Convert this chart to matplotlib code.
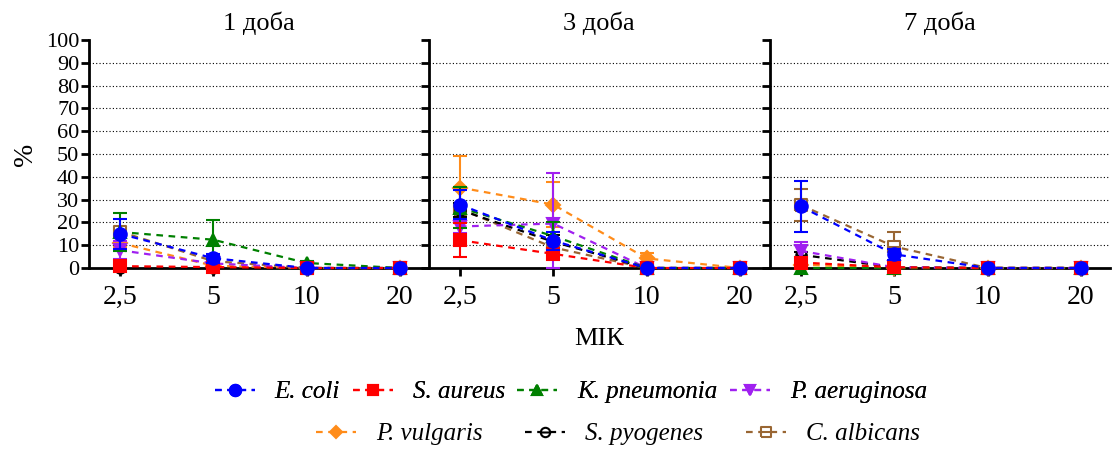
import matplotlib.pyplot as plt
import numpy as np
from matplotlib.lines import Line2D
from matplotlib.path import Path

plt.rcParams["font.family"] = "Liberation Serif"

days = ["1 доба", "3 доба", "7 доба"]
mic_labels = ["2,5", "5", "10", "20"]
species = ["E. coli", "S. aureus", "K. pneumonia", "P. aeruginosa",
           "P. vulgaris", "S. pyogenes", "C. albicans"]

# mean % per day (rows) and MIC (columns), with SD
e_coli = [[15.0, 4.3, 0, 0], [27.8, 12.0, 0, 0], [27.0, 6.0, 0, 0]]
e_coli_sd = [[6.5, 2.0, 0, 0], [6.5, 4.0, 0, 0], [11.0, 2.5, 0, 0]]
s_aureus = [[0.8, 0.4, 0, 0], [12.2, 6.2, 0, 0], [2.4, 0.3, 0, 0]]
s_aureus_sd = [[0, 0, 0, 0], [7.5, 2.0, 0, 0], [1.0, 0, 0, 0]]
k_pneumonia = [[15.8, 12.4, 2.2, 0], [26.5, 14.0, 0, 0], [0, 0, 0, 0]]
k_pneumonia_sd = [[8.5, 8.5, 0.8, 0], [9.0, 6.0, 0, 0], [0, 0, 0, 0]]
p_aeruginosa = [[7.8, 2.0, 0, 0], [18.2, 19.5, 0, 0], [7.5, 0.3, 0, 0]]
p_aeruginosa_sd = [[4.0, 1.0, 0, 0], [3.0, 22.0, 0, 0], [4.0, 0, 0, 0]]
p_vulgaris = [[11.0, 1.0, 0, 0], [35.3, 27.8, 4.2, 0], [1.5, 0, 0, 0]]
p_vulgaris_sd = [[2.0, 0.5, 0, 0], [14.0, 10.0, 2.5, 0], [0, 0, 0, 0]]
s_pyogenes = [[0, 0, 0, 0], [25.5, 11.5, 0, 0], [5.8, 0.3, 0, 0]]
s_pyogenes_sd = [[0, 0, 0, 0], [3.0, 3.0, 0, 0], [1.0, 0, 0, 0]]
c_albicans = [[16.0, 3.0, 0, 0], [26.0, 9.0, 0, 0], [27.6, 9.4, 0, 0]]
c_albicans_sd = [[2.0, 1.0, 0, 0], [2.0, 2.0, 0, 0], [7.0, 6.5, 0, 0]]

means = [e_coli, s_aureus, k_pneumonia, p_aeruginosa, p_vulgaris, s_pyogenes, c_albicans]
sds = [e_coli_sd, s_aureus_sd, k_pneumonia_sd, p_aeruginosa_sd,
       p_vulgaris_sd, s_pyogenes_sd, c_albicans_sd]

# circle / square with a horizontal bar through the middle
circle_bar = Path.make_compound_path(Path.unit_circle(), Path([[-1, 0], [1, 0]]))
sq = Path([[-1, -1], [1, -1], [1, 1], [-1, 1], [-1, -1]])
square_bar = Path.make_compound_path(sq, Path([[-1, 0], [1, 0]]))

colors = ["#0000FF", "#FF0000", "#008000", "#A020F0", "#FF8C1A", "#000000", "#996633"]
markers = ["o", "s", "^", "v", "D", circle_bar, square_bar]
msizes = [9, 8, 8.5, 8.5, 7, 7.5, 8]
filled = [True, True, True, True, True, False, False]
dash = (0, (3, 2.5))

fig = plt.figure(figsize=(11.13, 4.5), dpi=100)
W, H = 1113, 450
lefts = [89, 429, 770]
x = np.arange(len(mic_labels))

for d, day in enumerate(days):
    ax = fig.add_axes([lefts[d] / W, 1 - 268 / H, 340 / W, 228 / H])
    for level in range(10, 100, 10):
        ax.axhline(level, color="black", linestyle=(0, (1, 2)), linewidth=0.8, zorder=0)
    for i in reversed(range(len(species))):
        m = np.array(means[i][d], dtype=float)
        e = np.array(sds[i][d], dtype=float)
        yerr = [np.minimum(e, m), e]
        ax.errorbar(x, m, yerr=yerr, color=colors[i], linestyle=dash,
                    linewidth=1.6, marker=markers[i], markersize=msizes[i],
                    markerfacecolor=colors[i] if filled[i] else "white",
                    markeredgecolor=colors[i], markeredgewidth=1.5,
                    capsize=5, capthick=1.5, elinewidth=1.5,
                    clip_on=False, zorder=3 + (len(species) - i))
    ax.set_xlim(-0.33, 3.31)
    ax.set_ylim(0, 100)
    ax.set_yticks(range(0, 101, 10))
    ax.set_xticks(x)
    ax.set_xticklabels(mic_labels, fontsize=20)
    if d == 0:
        ax.set_yticklabels([str(v) for v in range(0, 101, 10)], fontsize=16)
        ax.set_ylabel("%", fontsize=20, labelpad=6)
    else:
        ax.set_yticklabels([])
    ax.spines["top"].set_visible(False)
    ax.spines["right"].set_visible(False)
    ax.spines["left"].set_linewidth(2)
    ax.spines["bottom"].set_linewidth(2)
    ax.tick_params(axis="both", width=2, length=6)
    ax.tick_params(axis="x", pad=6)
    ax.tick_params(axis="y", pad=1)
    ax.set_title(day, fontsize=19, pad=7)
    if d == 1:
        ax.set_xlabel("МІК", fontsize=19, labelpad=13)

handles = []
for i, name in enumerate(species):
    h = Line2D([], [], color=colors[i], linestyle=dash, linewidth=1.6,
               marker=markers[i], markersize=msizes[i] * 0.9,
               markerfacecolor=colors[i] if filled[i] else "white",
               markeredgecolor=colors[i], markeredgewidth=1.5)
    handles.append(h)

legend_kw = dict(frameon=False,
                 prop={"family": "Liberation Serif", "style": "italic", "size": 18},
                 handlelength=1.6, handletextpad=0.8, loc="center")
leg1 = fig.legend(handles[:4], species[:4], ncol=4, columnspacing=0.5,
                  bbox_to_anchor=(571 / W, 1 - 392 / H), **legend_kw)
fig.add_artist(leg1)
fig.legend(handles[4:], species[4:], ncol=3, columnspacing=1.7,
           bbox_to_anchor=(618 / W, 1 - 434 / H), **legend_kw)

fig.savefig("out.png", dpi=100)
